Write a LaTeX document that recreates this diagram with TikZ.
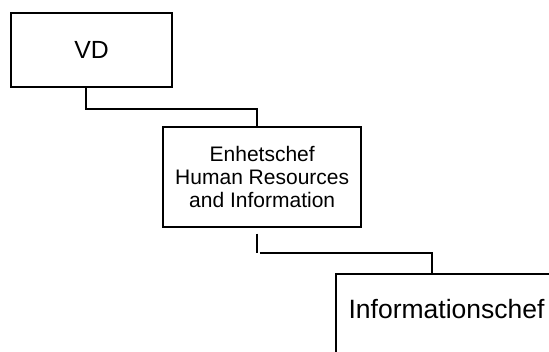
\documentclass[tikz,border=0pt]{standalone}
\usepackage{fontspec}
\setmainfont{Liberation Sans}
\begin{document}
\begin{tikzpicture}[x=1pt,y=1pt,
  orgbox/.style={draw=black, line width=2.1pt, fill=white, inner sep=0pt, align=center},
  link/.style={draw=black, line width=2.1pt}]
\clip (0,0) rectangle (549,-352);
\fill[white] (0,0) rectangle (549,-352);

% top level
\node (vd) [orgbox, minimum width=161pt, minimum height=74.6pt,
  font=\fontsize{24.8}{28}\selectfont] at (91.5,-50) {VD};

% second level
\node (hr) [orgbox, minimum width=197.7pt, minimum height=99.4pt,
  font=\fontsize{21}{23.3}\selectfont] at (262.2,-177) {Enhetschef\\Human Resources\\and Information};

% third level
\node (info) [orgbox, anchor=north west, text width=221pt,
  text height=44.4pt, text depth=47pt,
  font=\fontsize{26.5}{30}\selectfont] at (335,-273.3) {Informationschef};

% connectors
\coordinate (vdx) at ([xshift=-5.5pt]vd.south);
\draw[link] (vdx) |- ++(0,-20.7) -| ([xshift=-5.5pt]hr.north);
\draw[link] ([xshift=-5.5pt,yshift=-6pt]hr.south) -- ++(0,-19.6);
\draw[link] ([xshift=-2.5pt,yshift=-25.6pt]hr.south) -| (info.north -| 432.3,0);
\end{tikzpicture}
\end{document}
